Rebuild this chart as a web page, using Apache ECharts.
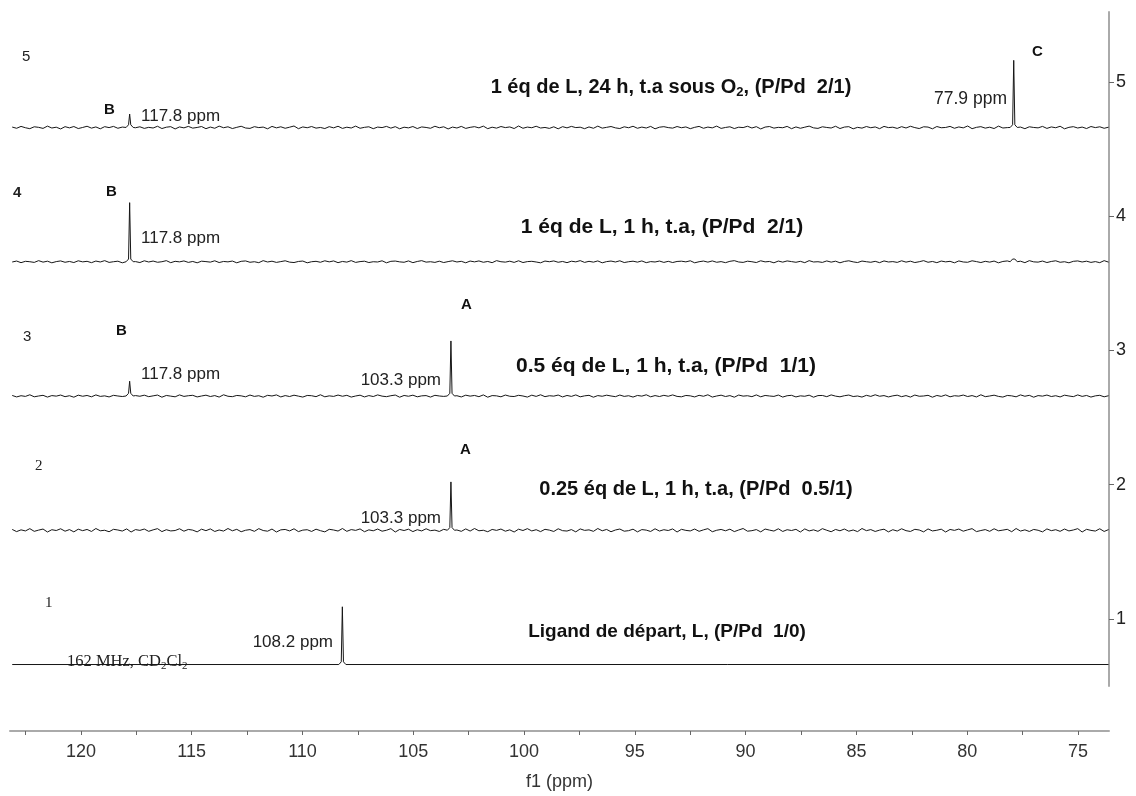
<!DOCTYPE html>
<html><head><meta charset="utf-8">
<script src="https://cdn.jsdelivr.net/npm/echarts@6/dist/echarts.min.js"></script>
<style>html,body{margin:0;padding:0;background:#fff}#c{width:1136px;height:796px}</style>
</head><body><div id="c"></div><script>
// ---- data ----
const spectrumIds = [1, 2, 3, 4, 5];
const baselines = [0.66, 1.66, 2.66, 3.66, 4.66];
const peakPositions = [[108.2], [103.3], [117.8, 103.3], [117.8, 77.9], [117.8, 77.9]];
const peakHeights = [[0.43], [0.36], [0.11, 0.41], [0.44, 0.02], [0.10, 0.50]];
const noise1 = [0, 0];
const noise2 = [6,-10,3,-5,12,-8,1,9,-13,4,-2,11,-7,5,-12,8,-3,6,-9,13,-4,0,-11,7,2,-6,10,-13,5,-1,9,-8,3,12,-10,4,-5,-2,11,-7,6,1,-12,8,-3,10,-9,2,-6,13,
  -4,7,-11,0,5,-8,12,-2,-7,9,-13,3,6,-5,11,-10,1,4,-9,8,-3,-12,7,2,-6,13,-8,5,-1,10,-11,3,-4,9,-7,0,12,-13,6,-2,8,-10,4,-5,11,-3,1,-9,7,-12,
  5,2,-8,10,-6,13,-4,0,-11,6,-1,9,-7,3,-13,8,-2,12,-5,4,-10,7,1,-9,11,-3,-6,5,-12,10,-1,3,-8,13,-4,6,-11,2,9,-7,-3,8,-12,5,1,-9,11,-6,4,-2,
  10,-13,7,-1,-5,9,-8,3,12,-11,0,6,-4,8,-10,2,13,-7,-3,5,-12,9,1,-6,11,-9,4,-2,7,-13,10,-5,3,-8,12,0,-11,6,-4,9,-7,2,-10,13,-3,5,-9,1,8,-12,
  4,-6,11,-3,-9,7,2,-12,10,-5,0,8,-13,6,-1,9,-7,3,12,-10,-2,5,-8,11,-4,1,7,-11,13,-6,3,-9,6,0,-12,10,-3,4,-8,9,-5,2,12,-13,7,-1,-6,11,-9,5];
const noise3 = [4,-7,2,-3,9,-6,0,5,-8,3,-1,7,-5,2,-9,6,-2,4,-6,8,-3,1,-7,5,0,-4,9,-8,3,-2,6,-5,1,7,-9,4,-1,-6,8,-3,2,5,-7,0,6,-4,3,-8,9,-2,
  -5,4,1,-6,7,-3,2,-9,5,0,8,-7,3,-4,6,-1,-8,4,2,-5,9,-6,1,-3,7,-2,5,-8,0,6,-7,3,-4,8,-1,-5,2,7,-9,4,-2,6,-6,1,3,-8,5,0,-3,9,
  -4,2,-7,6,-1,4,-5,8,-9,3,1,-6,7,-2,-4,5,0,-8,6,-3,9,-5,2,-1,7,-7,4,-3,8,-6,1,5,-9,3,-2,6,0,-5,7,-3,2,-8,4,-1,9,-6,3,-4,5,-2,
  8,-3,-6,4,1,-7,5,-2,9,-8,0,6,-4,3,-9,7,-1,2,-5,8,-6,4,0,-3,7,-8,2,5,-7,1,-2,6,-9,3,4,-5,8,-1,-6,2,7,-4,0,-8,5,-3,9,-2,3,-7,
  1,6,-5,3,-8,7,-2,0,5,-9,4,-3,8,-6,2,-1,7,-4,3,-7,9,-5,0,6,-3,-8,4,1,-6,8,-2,5,-9,3,-1,7,-4,2,-7,6,0,-5,8,-3,4,-8,1,5,-6,2];
const noise4 = [-2,5,-7,3,0,-5,8,-3,4,-8,1,6,-4,2,-6,7,-1,3,-7,5,-2,8,-5,0,4,-8,6,-3,1,-6,7,-2,5,-4,0,8,-7,3,-1,6,-5,2,-8,4,1,-3,7,-6,2,-1,
  5,-8,3,6,-4,0,-7,8,-2,4,-5,1,7,-3,-6,2,5,-8,0,3,-4,7,-1,6,-7,2,-3,8,-5,1,4,-6,0,-2,7,-8,3,5,-1,-4,6,-7,2,8,-3,0,-5,4,-6,1,
  7,-2,3,-8,5,-1,6,-4,2,-7,8,0,-3,4,-5,7,-6,1,3,-2,-8,5,0,6,-4,2,-7,4,-1,8,-5,3,-3,6,-8,1,5,-2,7,-6,0,4,-3,6,-7,1,-2,5,-5,3,
  -6,2,4,-1,7,-8,0,5,-3,6,-4,1,-7,3,8,-2,-5,4,0,-6,7,-1,2,-8,5,-3,6,1,-4,3,-7,8,-2,0,-5,6,-3,4,-8,2,7,-1,-6,5,0,-4,3,-7,6,-2,
  1,-5,7,-3,4,-6,0,8,-4,2,-7,5,-1,3,-8,6,-2,-4,7,1,-6,3,-3,5,-8,2,6,-5,0,4,-7,8,-1,-3,5,-6,2,7,-4,0,-8,3,6,-2,4,-5,1,-7,8,-3];
const noise5 = [3,-6,8,-2,-9,5,1,-7,10,-4,2,-11,6,-3,7,-8,0,9,-5,4,-10,6,-1,8,-6,3,-9,11,-2,5,-7,1,-4,9,-8,2,6,-11,4,-3,8,-5,0,7,-9,3,-6,10,-2,5,
  -8,1,9,-4,-7,6,-1,3,-10,8,-3,5,-6,2,11,-9,4,-2,7,-5,0,-8,6,-3,9,-7,2,-4,10,-6,1,5,-9,3,-1,8,-5,6,-10,2,-3,7,-8,4,0,-6,9,-2,5,-11,
  3,-4,8,-7,1,6,-3,10,-9,2,-5,7,-1,4,-8,11,-6,3,-2,9,-4,0,-7,5,-10,6,-3,8,-1,2,-9,4,-6,10,-5,1,7,-3,-8,5,-2,9,-6,3,-4,8,-10,2,6,-1,
  -5,7,-2,4,-9,1,8,-6,3,-3,10,-7,0,5,-8,2,-1,9,-4,6,-11,3,7,-5,1,-2,8,-9,4,-6,2,10,-3,-7,5,0,-4,9,-8,3,6,-10,1,-5,7,-2,4,-9,8,-1,
  2,-7,6,-4,9,-1,-8,5,3,-10,7,-2,0,8,-6,4,-3,11,-9,1,6,-5,2,-8,10,-4,-1,7,-6,3,-9,5,0,-3,8,-7,4,-2,9,-10,1,6,-4,3,-8,7,-1,5,-6,2];
const noiseSets = [noise1, noise2, noise3, noise4, noise5];
const spectrumStart = 123.1, spectrumEnd = 73.62;
const xTickLabels = [120, 115, 110, 105, 100, 95, 90, 85, 80, 75];
const xTicks = [122.5, 120, 117.5, 115, 112.5, 110, 107.5, 105, 102.5, 100, 97.5, 95, 92.5, 90, 87.5, 85, 82.5, 80, 77.5, 75];
const yTickLabels = [1, 2, 3, 4, 5];

// ---- build series ----
function buildSpectrum(i) {
  const b = baselines[i], noise = noiseSets[i];
  const peaks = peakPositions[i], heights = peakHeights[i];
  const n = noise.length;
  const pts = [];
  for (let k = 0; k < n; k++) {
    const x = spectrumStart + (spectrumEnd - spectrumStart) * k / (n - 1);
    if (peaks.some(p => Math.abs(p - x) < 0.2)) continue;
    pts.push([x, b + noise[k] / 1000]);
  }
  peaks.forEach((p, j) => {
    const h = heights[j];
    pts.push([p + 0.16, b], [p + 0.05, b + Math.min(0.02, h)], [p, b + h], [p - 0.05, b + Math.min(0.02, h)], [p - 0.16, b]);
  });
  pts.sort((a, c) => c[0] - a[0]);
  return pts;
}
const series = spectrumIds.map((id, i) => ({
  type: 'line', name: 'spectre ' + id, data: buildSpectrum(i),
  showSymbol: false, symbol: 'none', silent: true, animation: false,
  lineStyle: { color: '#161616', width: 1 }
}));

const SANS = '"Liberation Sans", Arial, sans-serif';
const SERIF = '"Liberation Serif", "Times New Roman", serif';
function txt(text, x, y, opts) {
  opts = opts || {};
  return { type: 'text', x: x, y: y, silent: true, style: Object.assign({
    text: text, fill: '#222', fontFamily: SANS, fontSize: 17,
    align: 'left', verticalAlign: 'middle'
  }, opts) };
}
const letter = { fontWeight: 'bold', fontSize: 15, fill: '#111' };
function title(size) { return { fontWeight: 'bold', fontSize: size, fill: '#111', align: 'center' }; }
const graphics = [
  txt('5', 22, 57, { fontSize: 15 }),
  txt('4', 13, 193, { fontSize: 15, fontWeight: 'bold' }),
  txt('3', 23, 337, { fontSize: 15 }),
  txt('2', 35, 466, { fontSize: 15, fontFamily: SERIF }),
  txt('1', 45, 603, { fontSize: 15, fontFamily: SERIF }),
  // spectrum 5
  txt('B', 104, 110, letter),
  txt('117.8 ppm', 141, 116),
  txt('77.9 ppm', 1007, 99, { align: 'right', fontSize: 17.5 }),
  txt('C', 1032, 52, letter),
  { type: 'text', x: 671, y: 87, silent: true, style: {
      text: '{a|1 éq de L, 24 h, t.a sous O}{s|2}{a|, (P/Pd  2/1)}',
      verticalAlign: 'middle', align: 'center',
      rich: { a: { fontFamily: SANS, fontSize: 20, fontWeight: 'bold', fill: '#111', lineHeight: 24, verticalAlign: 'middle' },
              s: { fontFamily: SANS, fontSize: 13, fontWeight: 'bold', fill: '#111', lineHeight: 24, verticalAlign: 'bottom' } } } },
  // spectrum 4
  txt('B', 106, 192, letter),
  txt('117.8 ppm', 141, 238),
  txt('1 éq de L, 1 h, t.a, (P/Pd  2/1)', 662, 227, title(21)),
  // spectrum 3
  txt('B', 116, 331, letter),
  txt('117.8 ppm', 141, 374),
  txt('103.3 ppm', 441, 380, { align: 'right' }),
  txt('A', 461, 305, letter),
  txt('0.5 éq de L, 1 h, t.a, (P/Pd  1/1)', 666, 366, title(21)),
  // spectrum 2
  txt('A', 460, 450, letter),
  txt('103.3 ppm', 441, 518, { align: 'right' }),
  txt('0.25 éq de L, 1 h, t.a, (P/Pd  0.5/1)', 696, 489, title(20)),
  // spectrum 1
  txt('108.2 ppm', 333, 642, { align: 'right' }),
  txt('Ligand de départ, L, (P/Pd  1/0)', 667, 632, title(19)),
  { type: 'text', x: 67, y: 662, silent: true, style: {
      text: '{a|162 MHz, CD}{s|2}{a|Cl}{s|2}',
      verticalAlign: 'middle', align: 'left',
      rich: { a: { fontFamily: SERIF, fontSize: 16.5, fill: '#222', lineHeight: 20, verticalAlign: 'middle' },
              s: { fontFamily: SERIF, fontSize: 11, fill: '#222', lineHeight: 20, verticalAlign: 'bottom' } } } }
];

const chart = echarts.init(document.getElementById('c'), null, { renderer: 'canvas' });
chart.setOption({
  backgroundColor: '#fff',
  animation: false,
  grid: { left: 10, right: 27, top: 12, bottom: 97, containLabel: false },
  xAxis: {
    type: 'value', inverse: true, min: 73.6, max: 123.2, position: 'bottom', offset: 45,
    name: 'f1 (ppm)', nameLocation: 'middle', nameGap: 42,
    nameTextStyle: { fontFamily: SANS, fontSize: 18, color: '#333' },
    axisLine: { show: true, onZero: false, lineStyle: { color: '#aaa', width: 2 } },
    axisTick: { show: true, inside: false, length: 4, customValues: xTicks, lineStyle: { color: '#666', width: 1 } },
    axisLabel: { customValues: xTickLabels, fontFamily: SANS, fontSize: 18, color: '#333', margin: 12 },
    splitLine: { show: false }
  },
  yAxis: {
    type: 'value', position: 'right', min: 0.5, max: 5.52,
    axisLine: { show: true, onZero: false, lineStyle: { color: '#aaa', width: 2 } },
    axisTick: { show: true, inside: false, length: 5, customValues: yTickLabels, lineStyle: { color: '#666', width: 1 } },
    axisLabel: { customValues: yTickLabels, fontFamily: SANS, fontSize: 18, color: '#222', margin: 7 },
    splitLine: { show: false }
  },
  series: series,
  graphic: graphics
});
</script></body></html>
